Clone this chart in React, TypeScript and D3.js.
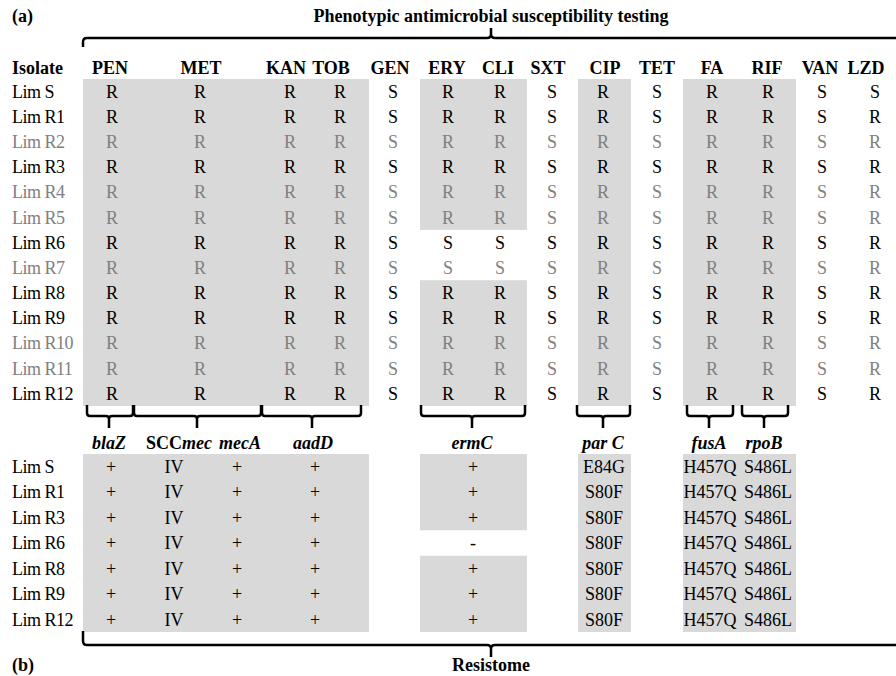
import React from 'react';
import * as d3 from 'd3';

// ---------- DATA ----------
const isolates = ['Lim S','Lim R1','Lim R2','Lim R3','Lim R4','Lim R5','Lim R6','Lim R7','Lim R8','Lim R9','Lim R10','Lim R11','Lim R12'];
const greyIsolates = ['Lim R2','Lim R4','Lim R5','Lim R7','Lim R10','Lim R11'];
const antibiotics = ['PEN','MET','KAN','TOB','GEN','ERY','CLI','SXT','CIP','TET','FA','RIF','VAN','LZD'];
// one string per isolate, one letter per antibiotic (order above)
const phenotypes = [
  'RRRRSRRSRSRRSS', // Lim S
  'RRRRSRRSRSRRSR', // Lim R1
  'RRRRSRRSRSRRSR', // Lim R2
  'RRRRSRRSRSRRSR', // Lim R3
  'RRRRSRRSRSRRSR', // Lim R4
  'RRRRSRRSRSRRSR', // Lim R5
  'RRRRSSSSRSRRSR', // Lim R6
  'RRRRSSSSRSRRSR', // Lim R7
  'RRRRSRRSRSRRSR', // Lim R8
  'RRRRSRRSRSRRSR', // Lim R9
  'RRRRSRRSRSRRSR', // Lim R10
  'RRRRSRRSRSRRSR', // Lim R11
  'RRRRSRRSRSRRSR', // Lim R12
];
// antibiotic groups linked to resistance genes (shaded where resistant)
const shadedGroups = [['PEN','MET','KAN','TOB'], ['ERY','CLI'], ['CIP'], ['FA','RIF']];

const resIsolates = ['Lim S','Lim R1','Lim R3','Lim R6','Lim R8','Lim R9','Lim R12'];
const blaZ = ['+','+','+','+','+','+','+'];
const sccmec = ['IV','IV','IV','IV','IV','IV','IV'];
const mecA = ['+','+','+','+','+','+','+'];
const aadD = ['+','+','+','+','+','+','+'];
const ermC = ['+','+','+','-','+','+','+'];
const parC = ['E84G','S80F','S80F','S80F','S80F','S80F','S80F'];
const fusA = ['H457Q','H457Q','H457Q','H457Q','H457Q','H457Q','H457Q'];
const rpoB = ['S486L','S486L','S486L','S486L','S486L','S486L','S486L'];

const titleTop = 'Phenotypic antimicrobial susceptibility testing';
const titleBottom = 'Resistome';

// ---------- LAYOUT ----------
const W = 896, H = 676;
const FONT = '"Liberation Serif", "Times New Roman", serif';
const FS = 18;
const GREY_FILL = '#d9d9d9';
const GREY_TEXT = '#808080';

const colX = d3.scaleOrdinal<string, number>()
  .domain(antibiotics)
  .range([112, 200, 290, 340, 393, 448, 500, 552, 603, 657, 712, 768, 822, 875]);
const headerX = d3.scaleOrdinal<string, number>()
  .domain(antibiotics)
  .range([110, 201, 286, 331, 390, 447, 498, 548, 605, 657, 712, 767, 820, 866]);
const groupExtent: Record<string, [number, number]> = {
  'PEN': [83, 369], 'ERY': [420, 527], 'CIP': [578, 631], 'FA': [683, 796],
};

const rowY = d3.scaleBand<string>().domain(isolates).range([79, 406]);
const resRowY = d3.scaleBand<string>().domain(resIsolates).range([454, 632]);

// resistome columns
type ResCol = { key: string; values: string[]; x: number; group: string };
const resCols: ResCol[] = [
  { key: 'blaZ', values: blaZ, x: 111, group: 'PEN' },
  { key: 'SCCmec', values: sccmec, x: 174, group: 'PEN' },
  { key: 'mecA', values: mecA, x: 237, group: 'PEN' },
  { key: 'aadD', values: aadD, x: 315, group: 'PEN' },
  { key: 'ermC', values: ermC, x: 473, group: 'ERY' },
  { key: 'parC', values: parC, x: 604, group: 'CIP' },
  { key: 'fusA', values: fusA, x: 710, group: 'FA' },
  { key: 'rpoB', values: rpoB, x: 768, group: 'FA' },
];

// gene label positions & brackets
const geneLabels = [
  { x: 109, parts: [{ t: 'blaZ', it: true }] },
  { x: 179, parts: [{ t: 'SCC', it: false }, { t: 'mec', it: true }] },
  { x: 240, parts: [{ t: 'mecA', it: true }] },
  { x: 313, parts: [{ t: 'aadD', it: true }] },
  { x: 472, parts: [{ t: 'ermC', it: true }] },
  { x: 603, parts: [{ t: 'par C', it: true }] },
  { x: 709, parts: [{ t: 'fusA', it: true }] },
  { x: 764, parts: [{ t: 'rpoB', it: true }] },
];
const subBrackets: [number, number, number][] = [
  [87, 109, 133], [134, 197, 261], [262, 312, 361], [421, 472, 525],
  [577, 603, 630], [687, 709, 733], [742, 764, 788],
];

function braceDown(x0: number, tip: number, x1: number, top: number, mid: number, bottom: number, r = 3) {
  const p = d3.path();
  p.moveTo(x0, top);
  p.lineTo(x0, mid - r);
  p.quadraticCurveTo(x0, mid, x0 + r, mid);
  p.lineTo(tip - r, mid);
  p.quadraticCurveTo(tip, mid, tip, mid + r);
  p.lineTo(tip, bottom);
  p.moveTo(tip, mid + r);
  p.quadraticCurveTo(tip, mid, tip + r, mid);
  p.lineTo(x1 - r, mid);
  p.quadraticCurveTo(x1, mid, x1, mid - r);
  p.lineTo(x1, top);
  return p.toString();
}

function runs(flags: boolean[]) {
  const out: [number, number][] = [];
  let s = -1;
  flags.forEach((f, i) => {
    if (f && s < 0) s = i;
    if (!f && s >= 0) { out.push([s, i - 1]); s = -1; }
  });
  if (s >= 0) out.push([s, flags.length - 1]);
  return out;
}

export default function App() {
  const bw = rowY.bandwidth();
  const rbw = resRowY.bandwidth();
  const rowMid = (iso: string) => (rowY(iso) as number) + bw / 2;
  const resMid = (iso: string) => (resRowY(iso) as number) + rbw / 2;

  const topRects: { x0: number; x1: number; y0: number; y1: number }[] = [];
  shadedGroups.forEach(g => {
    const flags = isolates.map((_, i) => g.every(a => phenotypes[i][antibiotics.indexOf(a)] === 'R'));
    runs(flags).forEach(([a, b]) => {
      const [x0, x1] = groupExtent[g[0]];
      topRects.push({ x0, x1, y0: rowY(isolates[a]) as number, y1: (rowY(isolates[b]) as number) + bw });
    });
  });

  const botRects: { x0: number; x1: number; y0: number; y1: number }[] = [];
  Object.keys(groupExtent).forEach(gk => {
    const cols = resCols.filter(c => c.group === gk);
    const flags = resIsolates.map((_, i) => cols.every(c => c.values[i] !== '-'));
    runs(flags).forEach(([a, b]) => {
      const [x0, x1] = groupExtent[gk];
      botRects.push({ x0, x1, y0: resRowY(resIsolates[a]) as number, y1: (resRowY(resIsolates[b]) as number) + rbw });
    });
  });

  const topY = 38;
  const botY = 645;
  const midX = 491;

  const topBracket = (() => {
    const p = d3.path();
    const r = 4;
    p.moveTo(83, 47);
    p.lineTo(83, topY + r);
    p.quadraticCurveTo(83, topY, 83 + r, topY);
    p.lineTo(midX - r, topY);
    p.quadraticCurveTo(midX, topY, midX, topY - r);
    p.lineTo(midX, 28);
    p.moveTo(midX, topY - r);
    p.quadraticCurveTo(midX, topY, midX + r, topY);
    p.lineTo(W + 10, topY);
    return p.toString();
  })();
  const botBracket = (() => {
    const p = d3.path();
    const r = 4;
    p.moveTo(83, 631);
    p.lineTo(83, botY - r);
    p.quadraticCurveTo(83, botY, 83 + r, botY);
    p.lineTo(midX - r, botY);
    p.quadraticCurveTo(midX, botY, midX, botY + r);
    p.lineTo(midX, 657);
    p.moveTo(midX, botY + r);
    p.quadraticCurveTo(midX, botY, midX + r, botY);
    p.lineTo(W + 10, botY);
    return p.toString();
  })();

  return (
    <svg width={W} height={H} style={{ position: 'absolute', left: 0, top: 0, background: '#fff' }}
      fontFamily={FONT} fontSize={FS}>
      <rect width={W} height={H} fill="#fff" />
      <text x={12} y={22} fontWeight="bold">(a)</text>
      <text x={midX} y={22} fontWeight="bold" textAnchor="middle">{titleTop}</text>
      <path d={topBracket} fill="none" stroke="#000" strokeWidth={2.5} />

      {topRects.map((r, i) => (
        <rect key={'tr' + i} x={r.x0} y={r.y0} width={r.x1 - r.x0} height={r.y1 - r.y0} fill={GREY_FILL} />
      ))}
      {botRects.map((r, i) => (
        <rect key={'br' + i} x={r.x0} y={r.y0} width={r.x1 - r.x0} height={r.y1 - r.y0} fill={GREY_FILL} />
      ))}

      <text x={12} y={74} fontWeight="bold">Isolate</text>
      {antibiotics.map(a => (
        <text key={a} x={headerX(a)} y={74} fontWeight="bold" textAnchor="middle">{a}</text>
      ))}

      {isolates.map((iso, i) => {
        const fill = greyIsolates.includes(iso) ? GREY_TEXT : '#000';
        const y = rowMid(iso);
        return (
          <g key={iso} fill={fill}>
            <text x={12} y={y} dy="0.35em" letterSpacing={-0.5}>{iso}</text>
            {antibiotics.map((a, j) => (
              <text key={a} x={colX(a)} y={y} dy="0.35em" textAnchor="middle">{phenotypes[i][j]}</text>
            ))}
          </g>
        );
      })}

      {subBrackets.map(([x0, tip, x1], i) => (
        <path key={'sb' + i} d={braceDown(x0, tip, x1, 405, 416, 428)} fill="none" stroke="#000" strokeWidth={2.5} />
      ))}

      {geneLabels.map((g, i) => (
        <text key={'gl' + i} x={g.x} y={449} fontWeight="bold" textAnchor="middle">
          {g.parts.map((p, k) => (
            <tspan key={k} fontStyle={p.it ? 'italic' : 'normal'}>{p.t}</tspan>
          ))}
        </text>
      ))}

      {resIsolates.map((iso, i) => {
        const y = resMid(iso);
        return (
          <g key={'r' + iso} fill="#000">
            <text x={12} y={y} dy="0.35em" letterSpacing={-0.5}>{iso}</text>
            {resCols.map(c => (
              <text key={c.key} x={c.x} y={y} dy="0.35em" textAnchor="middle">{c.values[i]}</text>
            ))}
          </g>
        );
      })}

      <path d={botBracket} fill="none" stroke="#000" strokeWidth={2.5} />
      <text x={12} y={671} fontWeight="bold">(b)</text>
      <text x={midX} y={671} fontWeight="bold" textAnchor="middle">{titleBottom}</text>
    </svg>
  );
}
